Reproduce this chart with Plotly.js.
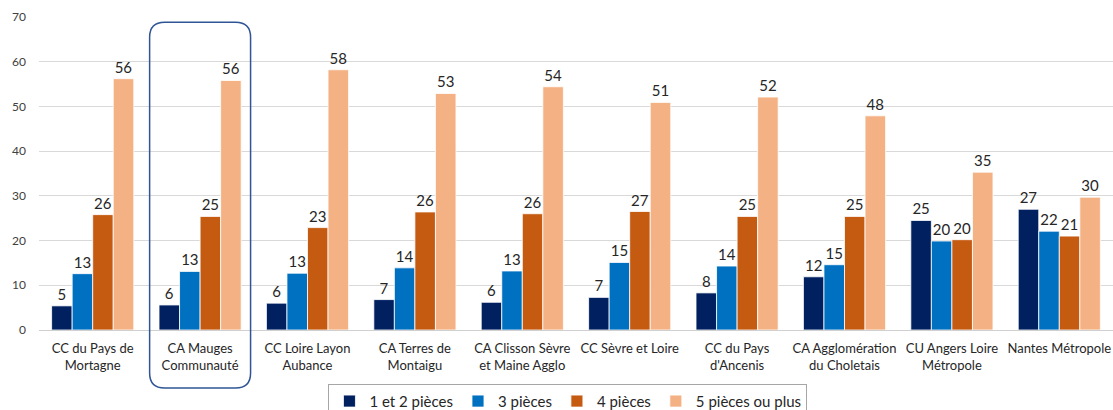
<!DOCTYPE html>
<html>
<head>
<meta charset="utf-8">
<script src="https://cdn.plot.ly/plotly-3.0.1.min.js"></script>
<style>html,body{margin:0;padding:0;background:#fff;}#chart{width:1113px;height:410px;}</style>
</head>
<body>
<div id="chart"></div>
<script>
const categories = ["CC du Pays de Mortagne","CA Mauges Communauté","CC Loire Layon Aubance","CA Terres de Montaigu","CA Clisson Sèvre et Maine Agglo","CC Sèvre et Loire","CC du Pays d'Ancenis","CA Agglomération du Choletais","CU Angers Loire Métropole","Nantes Métropole"];
const tickLabels = ["CC du Pays de<br>Mortagne","CA Mauges<br>Communauté","CC Loire Layon<br>Aubance","CA Terres de<br>Montaigu","CA Clisson Sèvre<br>et Maine Agglo","CC Sèvre et Loire","CC du Pays<br>d'Ancenis","CA Agglomération<br>du Choletais","CU Angers Loire<br>Métropole","Nantes Métropole"];
const seriesNames = ["1 et 2 pièces","3 pièces","4 pièces","5 pièces ou plus"];
const p12 = [5.4, 5.6, 6.0, 6.8, 6.2, 7.3, 8.3, 11.9, 24.5, 27.0];
const p3  = [12.6, 13.1, 12.7, 13.9, 13.2, 15.1, 14.3, 14.6, 19.9, 22.1];
const p4  = [25.8, 25.4, 22.9, 26.4, 26.0, 26.5, 25.4, 25.4, 20.2, 21.0];
const p5  = [56.2, 55.8, 58.2, 52.9, 54.4, 50.9, 52.1, 47.9, 35.3, 29.7];
const colors = ["#002060","#0070C0","#C55A11","#F4B183"];
const highlighted = "CA Mauges Communauté";

const allSeries = [p12, p3, p4, p5];
const traces = allSeries.map((vals, i) => ({
  type: 'bar',
  name: seriesNames[i],
  x: categories,
  y: vals,
  marker: {color: colors[i], line: {color: '#ffffff', width: 0.8}},
  texttemplate: '%{y:.0f}',
  textposition: 'outside',
  constraintext: 'none',
  cliponaxis: false,
  textfont: {family: 'Lato, "Open Sans", sans-serif', size: 15, color: '#262626'},
  hoverinfo: 'skip'
}));

// rounded highlight box around the highlighted category (paper coords)
const idx = categories.indexOf(highlighted);
const n = categories.length;
const xl = (idx - 0.47 + 0.5) / n, xr = (idx + 0.47 + 0.5) / n;
const yt = 0.983, yb = -0.185;
const rx = 0.014, ry = 0.048;
const path = `M ${xl+rx},${yt} L ${xr-rx},${yt} Q ${xr},${yt} ${xr},${yt-ry} L ${xr},${yb+ry} Q ${xr},${yb} ${xr-rx},${yb} L ${xl+rx},${yb} Q ${xl},${yb} ${xl},${yb+ry} L ${xl},${yt-ry} Q ${xl},${yt} ${xl+rx},${yt} Z`;

const layout = {
  width: 1113, height: 410,
  margin: {l: 39, r: 0, t: 17, b: 80, autoexpand: false},
  paper_bgcolor: '#ffffff', plot_bgcolor: '#ffffff',
  barmode: 'group', bargap: 0.235, bargroupgap: 0,
  font: {family: 'Lato, "Open Sans", sans-serif', color: '#262626'},
  showlegend: true,
  legend: {orientation: 'h', x: 0.4925, xanchor: 'center', y: -0.172, yanchor: 'top',
    bordercolor: '#a6a6a6', borderwidth: 1, font: {size: 15, color: '#262626'},
    traceorder: 'normal', itemwidth: 30, tracegroupgap: 0},
  xaxis: {type: 'category', tickmode: 'array', tickvals: categories, ticktext: tickLabels,
    tickfont: {size: 13, color: '#262626'}, showgrid: false, showline: true,
    linecolor: '#d0d0d0', linewidth: 1, ticks: '', ticklabelstandoff: 6,
    range: [-0.5, n - 0.5], fixedrange: true, automargin: false},
  yaxis: {range: [0, 70], dtick: 10, showgrid: true, gridcolor: '#d9d9d9', gridwidth: 1,
    zeroline: false, showline: false, ticks: '', ticklabelstandoff: 12,
    tickfont: {size: 12, color: '#404040'}, fixedrange: true, automargin: false},
  shapes: [{type: 'path', xref: 'paper', yref: 'paper', path: path,
    line: {color: '#2F5597', width: 1.5}, fillcolor: 'rgba(0,0,0,0)', layer: 'above'}]
};

Plotly.newPlot('chart', traces, layout, {displayModeBar: false, staticPlot: true});
</script>
</body>
</html>
